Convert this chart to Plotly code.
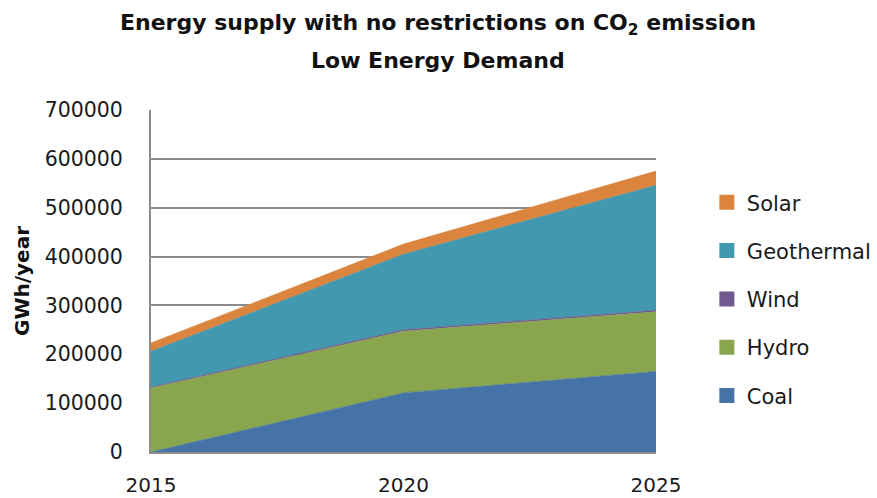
import plotly.graph_objects as go

# Energy supply by source, low energy demand scenario (GWh/year)
years = [2015, 2020, 2025]
coal = [0, 121000, 165000]
hydro = [131000, 126000, 122000]
wind = [2000, 3000, 3000]
geothermal = [73000, 155000, 256000]
solar = [17000, 20500, 29000]

series_names = ["Coal", "Hydro", "Wind", "Geothermal", "Solar"]
series_values = [coal, hydro, wind, geothermal, solar]
series_colors = ["#4572A7", "#89A54E", "#71588F", "#4198AF", "#DB843D"]

y_ticks = [0, 100000, 200000, 300000, 400000, 500000, 600000, 700000]

title_lines = ["Energy supply with no restrictions on CO<sub>2</sub> emission",
               "Low Energy Demand"]

FONT = "DejaVu Sans"
TEXT = "#1a1a1a"

fig = go.Figure()

# stacked areas, bottom to top
for name, vals, color in zip(series_names, series_values, series_colors):
    fig.add_trace(go.Scatter(
        x=years, y=vals, name=name, mode="lines",
        stackgroup="energy", showlegend=False,
        line=dict(color=color, width=0.6),
        fillcolor=color, hoverinfo="x+y+name",
    ))

# square legend keys, listed top to bottom as the stack is drawn
for rank, (name, color) in enumerate(zip(series_names[::-1], series_colors[::-1])):
    fig.add_trace(go.Bar(
        x=[None], y=[None], name=name, legendgroup=name, legendrank=rank + 1,
        marker=dict(color=color, line=dict(color=color, width=3)),
        showlegend=True,
    ))

annotations = []
for text, ypos in zip(title_lines, [1.250, 1.145]):
    annotations.append(dict(
        text="<b>" + text + "</b>", xref="paper", yref="paper",
        x=0.5675, y=ypos, xanchor="center", yanchor="middle",
        showarrow=False, font=dict(family=FONT, size=22, color="#111"),
    ))

fig.update_layout(
    width=877, height=498,
    margin=dict(l=151, r=221, t=110, b=46, autoexpand=False),
    paper_bgcolor="white", plot_bgcolor="white",
    font=dict(family=FONT, color=TEXT),
    annotations=annotations,
    showlegend=True,
    legend=dict(
        xref="container", x=0.806, xanchor="left", y=0.789, yanchor="top",
        traceorder="grouped", tracegroupgap=18,
        font=dict(family=FONT, size=21, color=TEXT),
        bgcolor="rgba(0,0,0,0)",
    ),
    xaxis=dict(
        range=[2015, 2025], tickvals=years, ticktext=[str(y) for y in years],
        showgrid=False, zeroline=False, automargin=False,
        showline=True, linecolor="#8c8c8c", linewidth=2,
        ticks="outside", ticklen=14, tickcolor="rgba(0,0,0,0)",
        tickfont=dict(family=FONT, size=20, color=TEXT),
    ),
    yaxis=dict(
        range=[0, 700000], tickvals=y_ticks, ticktext=[str(v) for v in y_ticks],
        showgrid=True, gridcolor="#8c8c8c", gridwidth=2,
        zeroline=False, showline=True, linecolor="#8c8c8c", linewidth=2,
        automargin=False,
        ticks="outside", ticklen=22, tickcolor="rgba(0,0,0,0)",
        tickfont=dict(family=FONT, size=20.5, color=TEXT),
        title=dict(text="<b>GWh/year</b>", standoff=10,
                   font=dict(family=FONT, size=20, color="#111")),
    ),
)

fig.write_html("out.html")
